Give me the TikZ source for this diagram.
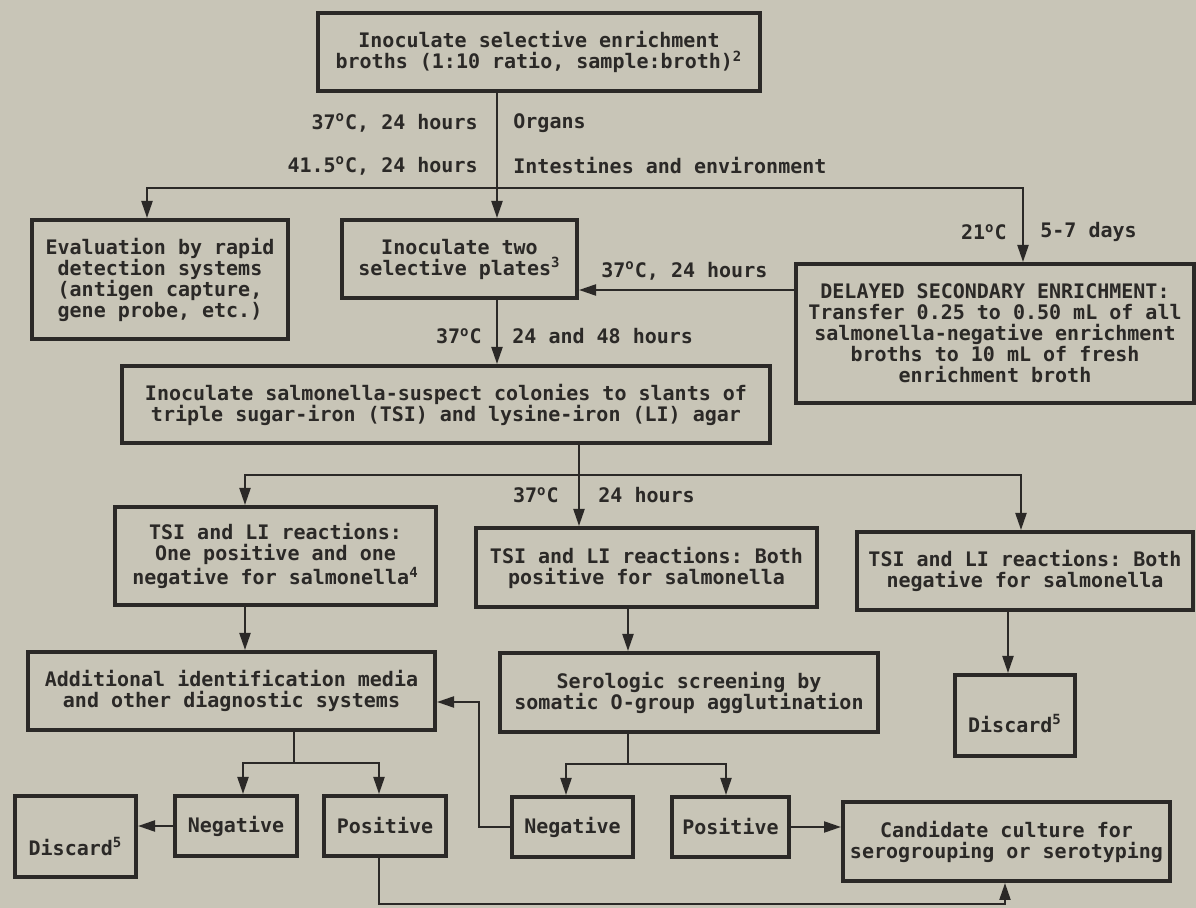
\documentclass[tikz,border=0pt]{standalone}
\usepackage{fontspec}
\setmonofont{DejaVu Sans Mono}
\usetikzlibrary{arrows.meta}
\definecolor{bg}{HTML}{C8C5B7}
\definecolor{ink}{HTML}{2B2927}
\newcommand\bx[6]{\node[box, minimum width={(#4-#2)*0.5pt}, minimum height={(#5-#3)*0.5pt}] (#1) at ({(#2+#4)/2},{(#3+#5)/2}) {#6};}
\newcommand\dg{\textsuperscript{o}}
\begin{document}
\begin{tikzpicture}[x=0.5pt,y=-0.5pt,
  every node/.style={font=\ttfamily\bfseries\fontsize{10}{10.5}\selectfont, text=ink},
  box/.style={draw=ink, line width=2pt, inner sep=0pt, align=center},
  ln/.style={draw=ink, line width=1.1pt},
  arr/.style={ln, -{Triangle[length=8.5pt,width=5.5pt]}},
  lbl/.style={inner sep=0pt}]
\fill[bg] (0,0) rectangle (1196,908);
\useasboundingbox (0,0) rectangle (1196,908);

% boxes
\bx{T}{318}{13}{760}{91}{Inoculate selective enrichment\\broths (1:10 ratio, sample:broth)\textsuperscript{2}}
\bx{E}{32}{220}{288}{339}{Evaluation by rapid\\detection systems\\(antigen capture,\\gene probe, etc.)}
\bx{I2}{342}{220}{577}{298}{Inoculate two\\selective plates\textsuperscript{3}}
\bx{D}{796}{264}{1194}{403}{DELAYED SECONDARY ENRICHMENT:\\Transfer 0.25 to 0.50 mL of all\\salmonella-negative enrichment\\broths to 10 mL of fresh\\enrichment broth}
\bx{S}{122}{366}{770}{443}{Inoculate salmonella-suspect colonies to slants of\\triple sugar-iron (TSI) and lysine-iron (LI) agar}
\bx{T1}{115}{507}{436}{605}{TSI and LI reactions:\\One positive and one\\negative for salmonella\textsuperscript{4}}
\bx{T2}{476}{528}{817}{607}{TSI and LI reactions: Both\\positive for salmonella}
\bx{T3}{857}{532}{1193}{610}{TSI and LI reactions: Both\\negative for salmonella}
\bx{A}{28}{652}{435}{730}{Additional identification media\\and other diagnostic systems}
\bx{Se}{500}{653}{878}{732}{Serologic screening by\\somatic O-group agglutination}
\bx{DR}{955}{675}{1075}{756}{\raisebox{-4pt}[\height][\depth]{Discard\textsuperscript{5}}}
\bx{DL}{15}{796}{136}{877}{\raisebox{-5pt}[\height][\depth]{Discard\textsuperscript{5}}}
\bx{N1}{175}{796}{297}{856}{Negative}
\bx{P1}{324}{796}{446}{856}{Positive}
\bx{N2}{512}{797}{633}{857}{Negative}
\bx{P2}{672}{797}{789}{857}{Positive}
\bx{C}{843}{802}{1170}{881}{Candidate culture for\\serogrouping or serotyping}

% labels
\node[lbl, anchor=east] (l1) at (478,123) {37\dg C, 24 hours};
\node[lbl, anchor=west] (l2) at (513,123) {Organs};
\node[lbl, anchor=east] (l3) at (478,166) {41.5\dg C, 24 hours};
\node[lbl, anchor=west] (l4) at (513,166) {Intestines and environment};
\node[lbl, anchor=east] (l5) at (1007,232) {21\dg C};
\node[lbl, anchor=west] (l6) at (1040,232) {5-7 days};
\node[lbl, anchor=west] (l7) at (601,271) {37\dg C, 24 hours};
\node[lbl, anchor=east] (l8) at (482,336) {37\dg C};
\node[lbl, anchor=west] (l9) at (512,336) {24 and 48 hours};
\node[lbl, anchor=east] (l10) at (559,495) {37\dg C};
\node[lbl, anchor=west] (l11) at (598,495) {24 hours};

% junction coordinates
\coordinate (j1) at (497,188);
\coordinate (jE) at (147,188);
\coordinate (jD) at (1023,188);
\coordinate (yd) at (700,290);
\coordinate (j2) at (579,475);
\coordinate (jT1) at (245,475);
\coordinate (jT3) at (1021,475);
\coordinate (xs) at (628,0);
\coordinate (xr) at (1008,0);
\coordinate (ja) at (294,763);
\coordinate (jn1) at (243,763);
\coordinate (jp1) at (379,763);
\coordinate (js) at (628,764);
\coordinate (jn2) at (566,764);
\coordinate (jp2) at (726,764);
\coordinate (yn) at (0,826);
\coordinate (yp) at (0,827);
\coordinate (rv) at (479,827);
\coordinate (ru) at (479,702);
\coordinate (bl) at (379,904);
\coordinate (br) at (1005,904);

% connectors
\draw[ln] (T.south -| j1) -- (j1);
\draw[arr] (j1) -- (j1 |- I2.north);
\draw[arr] (j1) -- (jE) -- (jE |- E.north);
\draw[arr] (j1) -- (jD) -- (jD |- D.north);
\draw[arr] (D.west |- yd) -- (I2.east |- yd);
\draw[arr] (I2.south -| j1) -- (S.north -| j1);
\draw[ln] (S.south -| j2) -- (j2);
\draw[arr] (j2) -- (j2 |- T2.north);
\draw[arr] (j2) -- (jT1) -- (jT1 |- T1.north);
\draw[arr] (j2) -- (jT3) -- (jT3 |- T3.north);
\draw[arr] (T1.south -| jT1) -- (A.north -| jT1);
\draw[arr] (T2.south -| xs) -- (Se.north -| xs);
\draw[arr] (T3.south -| xr) -- (DR.north -| xr);
\draw[ln] (A.south -| ja) -- (ja);
\draw[arr] (ja) -- (jn1) -- (jn1 |- N1.north);
\draw[arr] (ja) -- (jp1) -- (jp1 |- P1.north);
\draw[ln] (Se.south -| js) -- (js);
\draw[arr] (js) -- (jn2) -- (jn2 |- N2.north);
\draw[arr] (js) -- (jp2) -- (jp2 |- P2.north);
\draw[arr] (N1.west |- yn) -- (DL.east |- yn);
\draw[arr] (P2.east |- yp) -- (C.west |- yp);
\draw[arr] (N2.west |- rv) -- (rv) -- (ru) -- (A.east |- ru);
\draw[arr] (P1.south -| bl) -- (bl) -- (br) -- (C.south -| br);
\end{tikzpicture}
\end{document}
